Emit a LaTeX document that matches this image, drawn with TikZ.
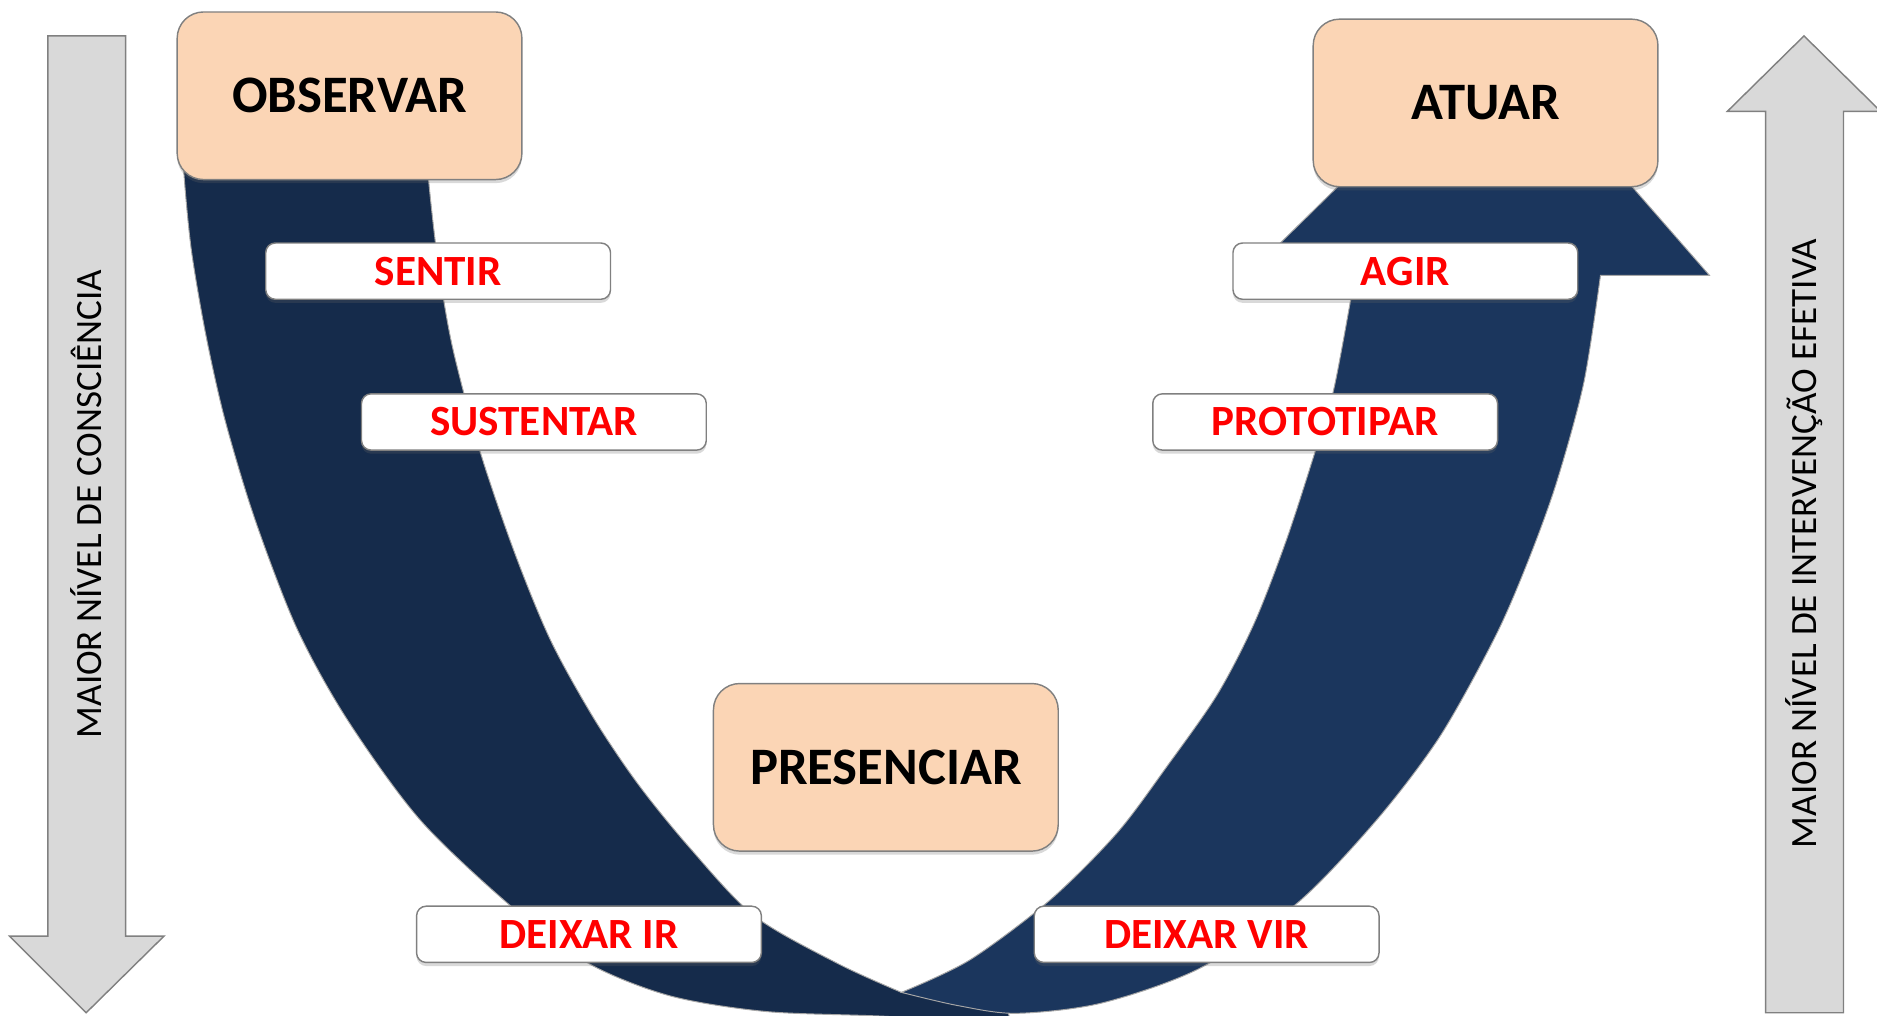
\documentclass[tikz,border=0pt]{standalone}
\usepackage{fontspec}
\setmainfont{Carlito}
\usetikzlibrary{shadows}

\definecolor{peach}{HTML}{FBD5B5}
\definecolor{navyA}{HTML}{152B4B}
\definecolor{navyB}{HTML}{1B365D}
\definecolor{sidegray}{HTML}{D9D9D9}
\definecolor{edgegray}{HTML}{808080}

\begin{document}
\begin{tikzpicture}[x=1pt,y=-1pt,
        band/.style={draw=gray!70,line width=0.8pt},
        side/.style={draw=edgegray,line width=1.2pt,fill=sidegray},
        sidetext/.style={rotate=90,font=\fontsize{31}{36}\selectfont},
        stage/.style={draw=edgegray,line width=1.2pt,fill=peach,rounded corners=22pt,
            minimum width=288pt,minimum height=140pt,
            font=\fontsize{44}{50}\selectfont\bfseries,
            drop shadow={shadow xshift=0pt,shadow yshift=-3pt,opacity=0.25,fill=black!60}},
        move/.style={draw=edgegray,line width=1.2pt,fill=white,rounded corners=8pt,
            minimum width=288pt,minimum height=47pt,text=red,
            font=\fontsize{36}{40}\selectfont\bfseries,
            drop shadow={shadow xshift=0pt,shadow yshift=-3pt,opacity=0.25,fill=black!60}}]
        \useasboundingbox (0,0) rectangle (1568,848);

        % side arrows
        \draw[side] (40,30) -- (105,30) -- (105,782) -- (137,782) -- (72,846) -- (8,782) -- (40,782) -- cycle;
        \draw[side] (1475,846) -- (1540,846) -- (1540,93) -- (1571,93) -- (1507,30) -- (1443,93) -- (1475,93) -- cycle;
        \node[sidetext] (aware) at (72,421) {MAIOR NÍVEL DE CONSCIÊNCIA};
        \node[sidetext] (effect) at (1507,454) {MAIOR NÍVEL DE INTERVENÇÃO EFETIVA};

        \begin{scope}
        \clip (0,0) rectangle (1568,848);
        % going down
        \filldraw[band,fill=navyA] plot[smooth] coordinates {(152,110) (154,150) (160,210) (172,280) (188,351) (213,434) (248,525) (290,601) (351,685) (428,758) (492,805) (560,832) (640,845) (740,849) (845,856)}
            -- (840,838) -- plot[smooth] coordinates {(753,829) (700,805) (630,765) (576,708) (533,655) (496,600) (460,535) (430,462) (401,377) (378,290) (366,220) (358,150) (356,110)} -- cycle;
        % going up
        \filldraw[band,fill=navyB] plot[smooth] coordinates {(753,829) (800,840) (849,846.5) (920,838) (1002,809) (1083,755) (1150,685) (1203,615) (1249,532) (1276,470) (1300,404) (1323,320) (1337,230)}
            -- (1428,230) -- (1250,26) -- (1042,230) -- (1133,230)
            -- plot[smooth] coordinates {(1128,252) (1114,326) (1099,376) (1075,450) (1048,520) (1017,580) (975,640) (933,696) (877,752) (810,802) (753,829)} -- cycle;
        \end{scope}

        \node[stage] (observe) at (292,80) {OBSERVAR};
        \node[stage] (act) at (1241,86) {ATUAR};
        \node[stage] (presence) at (740,641) {PRESENCIAR};

        \node[move] (sense) at (366,226.5) {SENTIR};
        \node[move] (hold) at (446,352.5) {SUSTENTAR};
        \node[move] (letgo) at (492,780.5) {DEIXAR IR};
        \node[move] (acting) at (1174,226.5) {AGIR};
        \node[move] (prototype) at (1107,352.5) {PROTOTIPAR};
        \node[move] (letcome) at (1008,780.5) {DEIXAR VIR};
    \end{tikzpicture}
\end{document}
